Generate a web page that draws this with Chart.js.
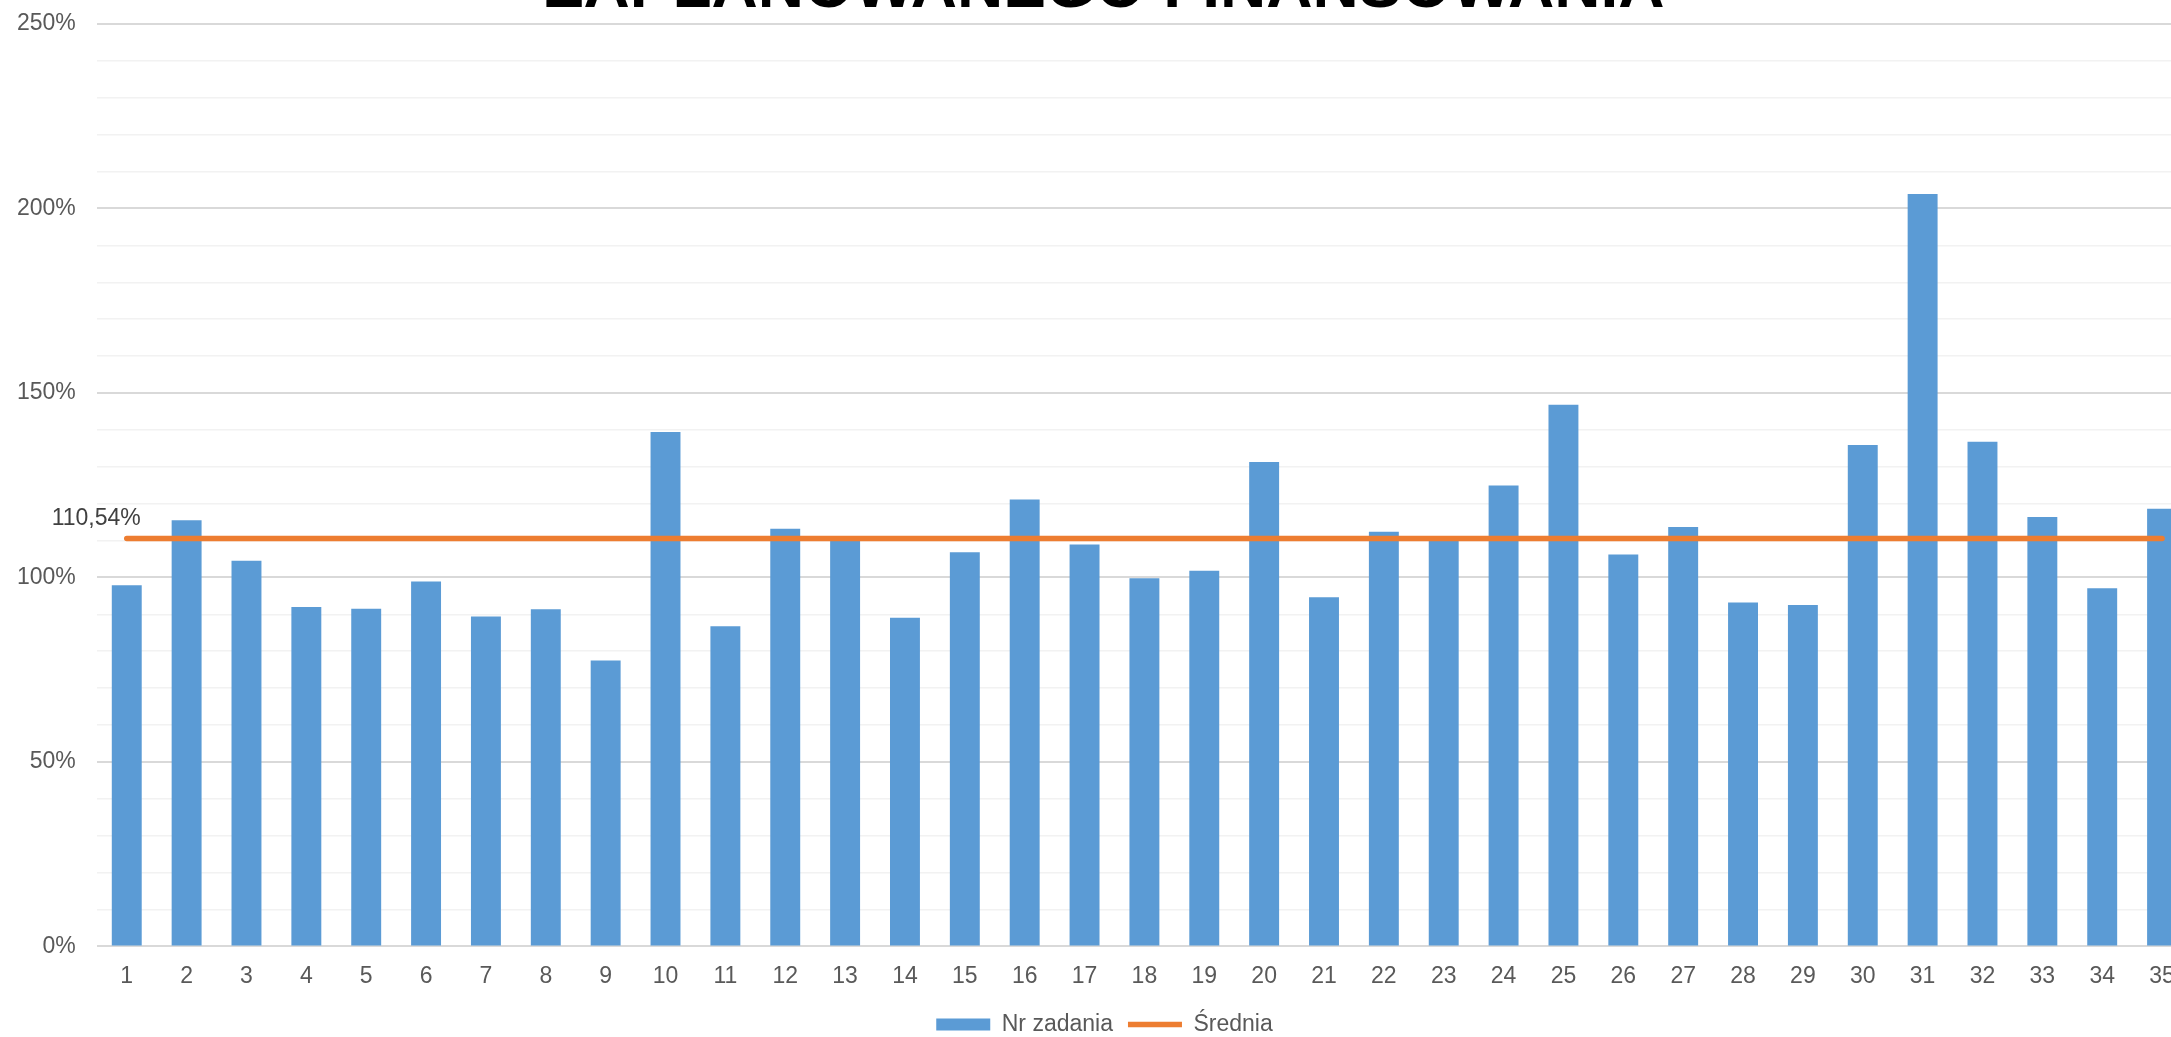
<!DOCTYPE html>
<html>
<head>
<meta charset="utf-8">
<script src="https://cdn.jsdelivr.net/npm/chart.js@4"></script>
<style>
    html, body { margin: 0; padding: 0; background: #fff; overflow: hidden; }
    body { width: 2171px; height: 1037px; position: relative; }
    #wykres { position: absolute; left: 0; top: -43px; }
</style>
</head>
<body>
<canvas id="wykres" width="2202" height="1093"></canvas>
<script>
// numery zadan
var zadania = ['1', '2', '3', '4', '5', '6', '7', '8', '9', '10',
    '11', '12', '13', '14', '15', '16', '17', '18', '19', '20',
    '21', '22', '23', '24', '25', '26', '27', '28', '29', '30',
    '31', '32', '33', '34', '35'];

// procent zaplanowanego finansowania
var procent = [97.9, 115.5, 104.5, 92.0, 91.5, 98.9, 89.4, 91.4, 77.5, 139.4,
    86.8, 113.2, 110.9, 89.1, 106.8, 121.1, 108.9, 99.8, 101.8, 131.3,
    94.6, 112.4, 111.0, 124.9, 146.8, 106.2, 113.7, 93.2, 92.5, 135.9,
    203.9, 136.8, 116.4, 97.1, 118.6];

// srednia
var srednia = [110.54, 110.54, 110.54, 110.54, 110.54, 110.54, 110.54, 110.54, 110.54, 110.54,
    110.54, 110.54, 110.54, 110.54, 110.54, 110.54, 110.54, 110.54, 110.54, 110.54,
    110.54, 110.54, 110.54, 110.54, 110.54, 110.54, 110.54, 110.54, 110.54, 110.54,
    110.54, 110.54, 110.54, 110.54, 110.54];

var etykietaSredniej = '110,54%';

var FONT = '"Liberation Sans", Arial, sans-serif';

// etykieta nad pierwszym punktem sredniej
var etykietaPlugin = {
    id: 'etykieta',
    afterDatasetsDraw: function (chart) {
        var meta = chart.getDatasetMeta(1);
        var p = meta.data[0];
        if (!p) return;
        var ctx = chart.ctx;
        ctx.save();
        ctx.font = '23px ' + FONT;
        ctx.fillStyle = '#404040';
        ctx.textAlign = 'right';
        ctx.textBaseline = 'middle';
        ctx.fillText(etykietaSredniej, p.x + 14, p.y - 20);
        ctx.restore();
    }
};

function wykresCanvas() {
    var ctx = document.getElementById('wykres').getContext('2d');
    var chart = new Chart(ctx, {
        type: 'bar',
        data: {
            labels: zadania,
            datasets: [{
                label: 'Nr zadania',
                data: procent,
                backgroundColor: '#5B9BD5',
                categoryPercentage: 0.5,
                barPercentage: 1.0,
                order: 1
            }, {
                type: 'line',
                label: 'Średnia',
                data: srednia,
                borderColor: '#ED7D31',
                backgroundColor: '#ED7D31',
                borderWidth: 5.5,
                borderCapStyle: 'round',
                pointRadius: 0,
                fill: false,
                order: -1
            }]
        },
        options: {
            responsive: false,
            animation: false,
            devicePixelRatio: 1,
            layout: {
                padding: { left: 17, right: 10, top: 0, bottom: 4 }
            },
            plugins: {
                tooltip: { enabled: false },
                title: {
                    display: true,
                    text: 'ZAPLANOWANEGO FINANSOWANIA',
                    color: '#000',
                    font: { family: FONT, size: 64, weight: 'bold', lineHeight: 1.0 },
                    padding: { top: 0, bottom: 3 }
                },
                legend: {
                    position: 'bottom',
                    labels: {
                        color: '#595959',
                        font: { family: FONT, size: 23 },
                        usePointStyle: true,
                        pointStyleWidth: 54,
                        boxWidth: 54,
                        boxHeight: 12,
                        padding: 15,
                        sort: function (a, b) { return a.datasetIndex - b.datasetIndex; },
                        generateLabels: function (chart) {
                            var items = Chart.defaults.plugins.legend.labels.generateLabels(chart);
                            items.forEach(function (it) {
                                it.pointStyle = it.datasetIndex === 0 ? 'rect' : 'line';
                            });
                            return items;
                        }
                    }
                }
            },
            scales: {
                x: {
                    grid: { display: false },
                    border: { display: false },
                    ticks: {
                        color: '#595959',
                        font: { family: FONT, size: 23 },
                        padding: 8,
                        maxRotation: 0,
                        autoSkip: false
                    }
                },
                y: {
                    min: 0,
                    max: 250,
                    border: { display: false },
                    grid: {
                        drawTicks: false,
                        color: function (c) { return c.tick.value % 50 === 0 ? '#d9d9d9' : '#f2f2f2'; },
                        lineWidth: function (c) { return c.tick.value % 50 === 0 ? 2 : 1.5; }
                    },
                    ticks: {
                        stepSize: 10,
                        autoSkip: false,
                        color: '#595959',
                        font: { family: FONT, size: 23 },
                        padding: 21,
                        callback: function (v) { return v % 50 === 0 ? v + '%' : ''; }
                    },
                    // padding etykiet liczony jest podwojnie, odejmujemy nadmiar
                    afterFit: function (scale) {
                        scale.width -= 21;
                    }
                }
            }
        },
        plugins: [etykietaPlugin]
    });
}

wykresCanvas();
</script>
</body>
</html>
